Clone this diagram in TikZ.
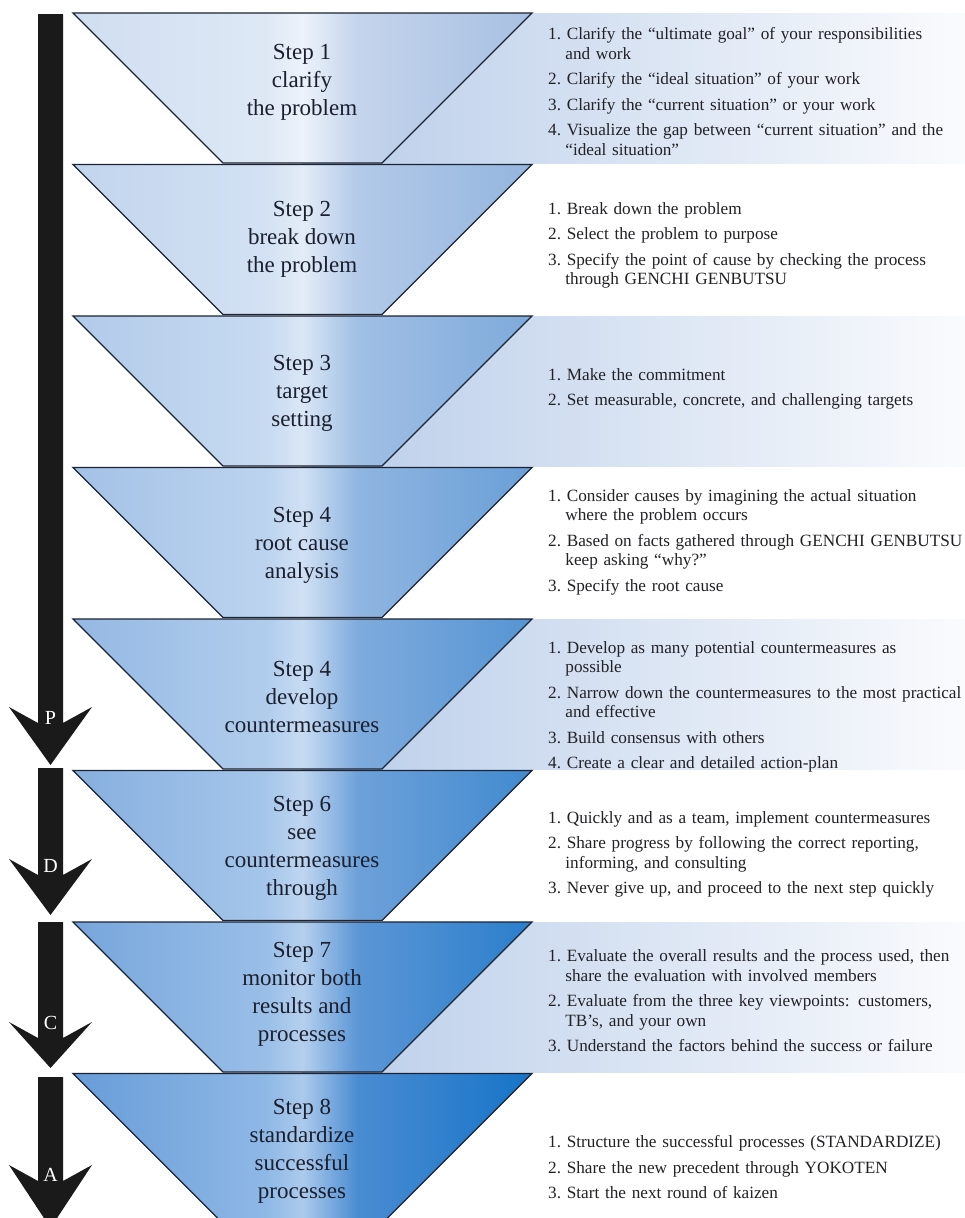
\documentclass[tikz,border=0pt]{standalone}
\usepackage{fontspec}
\setmainfont{Liberation Serif}

% colours: funnel shading runs from pale (step 1) to saturated (step 8)
\definecolor{aL}{RGB}{208,222,241}
\definecolor{aA}{RGB}{222,232,245}
\definecolor{aM}{RGB}{236,242,250}
\definecolor{aB}{RGB}{196,212,236}
\definecolor{aR}{RGB}{168,192,226}
\definecolor{bL}{RGB}{104,156,216}
\definecolor{bA}{RGB}{142,184,230}
\definecolor{bM}{RGB}{172,202,236}
\definecolor{bB}{RGB}{74,140,210}
\definecolor{bR}{RGB}{22,116,200}
\definecolor{panelL}{RGB}{184,204,233}
\definecolor{panelR}{RGB}{250,251,253}
\definecolor{edge}{RGB}{28,35,51}
\definecolor{ink}{RGB}{27,31,46}
\definecolor{listink}{RGB}{34,34,38}
\definecolor{pdcafill}{RGB}{26,26,26}
\colorlet{tL}{aL}\colorlet{tA}{aA}\colorlet{tM}{aM}\colorlet{tB}{aB}\colorlet{tR}{aR}

\pgfdeclarehorizontalshading[tL,tA,tM,tB,tR]{trapshade}{100bp}{%
  color(0bp)=(tL); color(25bp)=(tL); color(46bp)=(tA); color(50bp)=(tM);
  color(56bp)=(tB); color(75bp)=(tR); color(100bp)=(tR)}

% one numbered item with a hanging indent, never hyphenated
\newcommand\li[2]{\par\ifnum#1>1 \vskip6pt\fi
  \hyphenpenalty=10000\relax\exhyphenpenalty=10000\relax
  \hangindent=17.2pt\hangafter=1\noindent#1.\ #2\par}

% one PDCA arrow: shaft top, barb line, tip
\newcommand\pdcaarrow[3]{%
  \fill[pdca] (38,#1) -- (63,#1) -- (63,#2+16) -- (92,#2) -- (50.5,#3)
    -- (9,#2) -- (38,#2+16) -- cycle;}

\begin{document}
\begin{tikzpicture}[x=1pt,y=-1pt,
  trap/.style={draw=edge, line width=1.3pt, line join=miter, shading=trapshade},
  panel/.style={left color=panelL, right color=panelR},
  steptext/.style={align=center, inner sep=0pt, text=ink,
    font=\fontsize{23}{28}\selectfont},
  listtext/.style={anchor=west, text width=470pt, align=left, inner sep=0pt,
    text=listink, font=\fontsize{17.2}{19.5}\selectfont},
  pdca/.style={fill=pdcafill},
  pdcalabel/.style={text=white, inner sep=0pt, font=\fontsize{20}{20}\selectfont}]
\useasboundingbox (0,0) rectangle (965,1218);
\clip (0,0) rectangle (965,1218);
\fill[white] (0,0) rectangle (965,1218);

% bands: panel behind odd steps, then the funnel trapezoid
\foreach \k in {1,...,8}{
  \pgfmathsetmacro\T{13+151.5*(\k-1)}
  \pgfmathtruncatemacro\p{round(100*(8-\k)/7)}
  \ifodd\k
    \shade[panel] (302,\T) rectangle (965,\T+150);
  \fi
  \colorlet{tL}{aL!\p!bL}\colorlet{tA}{aA!\p!bA}\colorlet{tM}{aM!\p!bM}
  \colorlet{tB}{aB!\p!bB}\colorlet{tR}{aR!\p!bR}
  \draw[trap] (73,\T) -- (532,\T) -- (382,\T+150) -- (223,\T+150) -- cycle;
}

% step titles
\node[steptext] (s1) at (302,82)     {Step 1\\clarify\\the problem};
\node[steptext] (s2) at (302,239.5)  {Step 2\\break down\\the problem};
\node[steptext] (s3) at (302,393)    {Step 3\\target\\setting};
\node[steptext] (s4) at (302,545.5)  {Step 4\\root cause\\analysis};
\node[steptext] (s5) at (302,697)    {Step 4\\develop\\countermeasures};
\node[steptext] (s6) at (302,848.5)  {Step 6\\see\\countermeasures\\through};
\node[steptext] (s7) at (302,994)    {Step 7\\monitor both\\results and\\processes};
\node[steptext] (s8) at (302,1151.5) {Step 8\\standardize\\successful\\processes};

% task lists
\node[listtext] (l1) at (548,88) {%
  \li{1}{Clarify the “ultimate goal” of your responsibilities\newline and work}
  \li{2}{Clarify the “ideal situation” of your work}
  \li{3}{Clarify the “current situation” or your work}
  \li{4}{Visualize the gap between “current situation” and the\newline “ideal situation”}};
\node[listtext] (l2) at (548,241.5) {%
  \li{1}{Break down the problem}
  \li{2}{Select the problem to purpose}
  \li{3}{Specify the point of cause by checking the process\newline through GENCHI GENBUTSU}};
\node[listtext] (l3) at (548,385) {%
  \li{1}{Make the commitment}
  \li{2}{Set measurable, concrete, and challenging targets}};
\node[listtext] (l4) at (548,538.5) {%
  \li{1}{Consider causes by imagining the actual situation\newline where the problem occurs}
  \li{2}{Based on facts gathered through GENCHI GENBUTSU\newline keep asking “why?”}
  \li{3}{Specify the root cause}};
\node[listtext] (l5) at (548,703) {%
  \li{1}{Develop as many potential countermeasures as\newline possible}
  \li{2}{Narrow down the countermeasures to the most practical\newline and effective}
  \li{3}{Build consensus with others}
  \li{4}{Create a clear and detailed action-plan}};
\node[listtext] (l6) at (548,850.5) {%
  \li{1}{Quickly and as a team, implement countermeasures}
  \li{2}{Share progress by following the correct reporting,\newline informing, and consulting}
  \li{3}{Never give up, and proceed to the next step quickly}};
\node[listtext] (l7) at (548,997) {%
  \li{1}{Evaluate the overall results and the process used, then\newline share the evaluation with involved members}
  \li{2}{Evaluate from the three key viewpoints: customers,\newline TB’s, and your own}
  \li{3}{Understand the factors behind the success or failure}};
\node[listtext] (l8) at (548,1163.5) {%
  \li{1}{Structure the successful processes (STANDARDIZE)}
  \li{2}{Share the new precedent through YOKOTEN}
  \li{3}{Start the next round of kaizen}};

% PDCA arrows down the left side
\pdcaarrow{14}{707}{765}
\pdcaarrow{768}{859}{915}
\pdcaarrow{922}{1022}{1068}
\pdcaarrow{1077}{1165}{1228}
\node[pdcalabel] (P) at (50.5,718)  {P};
\node[pdcalabel] (D) at (50.5,866)  {D};
\node[pdcalabel] (C) at (50.5,1023) {C};
\node[pdcalabel] (A) at (50.5,1175) {A};
\end{tikzpicture}
\end{document}
